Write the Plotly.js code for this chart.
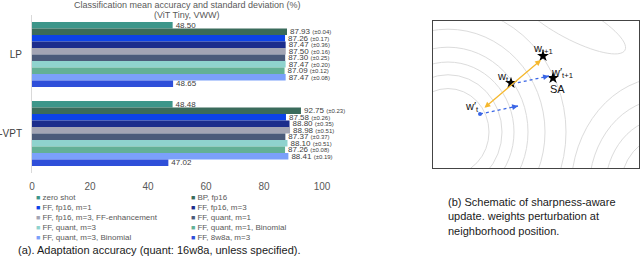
<!DOCTYPE html>
<html><head><meta charset="utf-8">
<script src="https://cdn.plot.ly/plotly-3.0.1.min.js"></script>
<style>html,body{margin:0;padding:0;background:#fff}#chart{width:640px;height:260px}</style>
</head><body><div id="chart"></div>
<script>
// ---------- bar chart data ----------
const categories = ['LP', 'D-VPT'];
const seriesNames = ['zero shot', 'BP, fp16', 'FF, fp16, m=1', 'FF, fp16, m=3',
  'FF, fp16, m=3, FF-enhancement', 'FF, quant, m=1', 'FF, quant, m=3',
  'FF, quant, m=1, Binomial', 'FF, quant, m=3, Binomial', 'FF, 8w8a, m=3'];
const seriesColors = ['#3d968a', '#3a6b5b', '#0c43e8', '#1c2d8c', '#a3a5b4',
  '#4b5b7a', '#8fd3ce', '#63b096', '#7ba0fa', '#2f4fd9'];
const lpValues  = [48.50, 87.93, 87.26, 87.47, 87.50, 87.30, 87.47, 87.09, 87.47, 48.65];
const lpStd     = [null, 0.04, 0.17, 0.36, 0.16, 0.25, 0.20, 0.12, 0.08, null];
const vptValues = [48.48, 92.75, 87.58, 88.80, 88.98, 87.37, 88.10, 87.26, 88.41, 47.02];
const vptStd    = [null, 0.23, 0.26, 0.35, 0.51, 0.37, 0.51, 0.08, 0.19, null];
const xTicks = [0, 20, 40, 60, 80, 100];
const titleLines = ['Classification mean accuracy and standard deviation (%)', '(ViT Tiny, VWW)'];

// ---------- schematic data (box coordinates) ----------
const starX = [110, 78, 120];          // w_{t+1}, w_t, w'_{t+1}
const starY = [112, 85, 90];
const wPrimeX = [47];                  // w'_t
const wPrimeY = [54];
const orangeFrom = [50, 59], orangeTo = [108, 108];
const blueFromX = [47, 79], blueFromY = [54, 84];
const blueToX = [85, 116], blueToY = [62, 92];
const labelTexts = ['w<sub>t+1</sub>', 'w<sub>t</sub>', 'w′<sub>t+1</sub>', 'SA', 'w′<sub>t</sub>'];
const labelX = [110, 70, 129, 124, 39];
const labelY = [119, 91, 95, 79, 61];
// contours: left family (centre, radii), bottom-right family, tilted ellipse top-right
const leftCentre = [15, 36], leftRadii = [41, 54, 66, 80, 97, 118];
const brCentre = [232, -22], brRadii = [45, 60, 76, 94];
const tiltCentre = [139, 146], tiltAxes = [60, 17], tiltAngle = 28;

function lbl(v, s) {
  return s == null ? v.toFixed(2)
    : v.toFixed(2) + ' <span style="font-size:6px">(±' + s.toFixed(2) + ')</span>';
}

const traces = seriesNames.map((name, i) => ({
  type: 'bar', orientation: 'h', name: name,
  y: categories, x: [lpValues[i], vptValues[i]],
  marker: {color: seriesColors[i], line: {width: 0}},
  text: [lbl(lpValues[i], lpStd[i]), lbl(vptValues[i], vptStd[i])],
  textposition: 'outside', cliponaxis: false, constraintext: 'none', textangle: 0,
  outsidetextfont: {size: 8, color: '#404040', family: 'Liberation Sans, Arial, sans-serif'},
  xaxis: 'x', yaxis: 'y', showlegend: false, hoverinfo: 'skip'
}));

traces.push({
  type: 'scatter', mode: 'markers', x: wPrimeX, y: wPrimeY, xaxis: 'x2', yaxis: 'y2',
  marker: {symbol: 'circle', size: 4, color: '#3a66e6'}, showlegend: false, hoverinfo: 'skip'
});
traces.push({
  type: 'scatter', mode: 'markers', x: starX, y: starY, xaxis: 'x2', yaxis: 'y2',
  marker: {symbol: 'star', size: 9, color: '#000'}, showlegend: false, hoverinfo: 'skip'
});

// shapes
const shapes = [];
const contourLine = {color: '#dcdcdc', width: 1};
leftRadii.forEach(r => shapes.push({type: 'circle', xref: 'x2', yref: 'y2',
  x0: leftCentre[0] - r, x1: leftCentre[0] + r,
  y0: leftCentre[1] - r * 1.06, y1: leftCentre[1] + r * 1.06, line: contourLine, layer: 'below'}));
brRadii.forEach(r => shapes.push({type: 'circle', xref: 'x2', yref: 'y2',
  x0: brCentre[0] - r, x1: brCentre[0] + r,
  y0: brCentre[1] - r * 1.2, y1: brCentre[1] + r * 1.2, line: contourLine, layer: 'below'}));
(function () {
  const t = tiltAngle * Math.PI / 180, k = 0.5523;
  const u = [Math.cos(t) * tiltAxes[0], -Math.sin(t) * tiltAxes[0]];
  const v = [Math.sin(t) * tiltAxes[1], Math.cos(t) * tiltAxes[1]];
  const c = tiltCentre;
  const P = (a, b) => [c[0] + a * u[0] + b * v[0], c[1] + a * u[1] + b * v[1]];
  const f = p => p[0].toFixed(2) + ',' + p[1].toFixed(2);
  const pts = [[1, 0], [0, 1], [-1, 0], [0, -1], [1, 0]];
  let d = 'M' + f(P(1, 0));
  for (let i = 0; i < 4; i++) {
    const a = pts[i], b = pts[i + 1];
    const c1 = P(a[0] + k * b[0], a[1] + k * b[1]);
    const c2 = P(b[0] + k * a[0], b[1] + k * a[1]);
    d += ' C' + f(c1) + ' ' + f(c2) + ' ' + f(P(b[0], b[1]));
  }
  shapes.push({type: 'path', xref: 'x2', yref: 'y2', path: d + ' Z', line: contourLine, layer: 'below'});
})();
for (let i = 0; i < blueFromX.length; i++) {
  shapes.push({type: 'line', xref: 'x2', yref: 'y2', x0: blueFromX[i], y0: blueFromY[i],
    x1: blueToX[i], y1: blueToY[i], line: {color: '#3a66e6', width: 1.3, dash: 'dot'}});
}

// annotations
const ann = [];
ann.push({xref: 'x2', yref: 'y2', axref: 'x2', ayref: 'y2', x: orangeTo[0], y: orangeTo[1],
  ax: orangeFrom[0], ay: orangeFrom[1], text: '', showarrow: true, arrowhead: 2, arrowside: 'end+start',
  arrowsize: 0.9, arrowwidth: 1.3, arrowcolor: '#f5b82e'});
for (let i = 0; i < blueFromX.length; i++) {
  ann.push({xref: 'x2', yref: 'y2', axref: 'x2', ayref: 'y2', x: blueToX[i], y: blueToY[i],
    ax: blueFromX[i] + 0.8 * (blueToX[i] - blueFromX[i]), ay: blueFromY[i] + 0.8 * (blueToY[i] - blueFromY[i]),
    text: '', showarrow: true, arrowhead: 2, arrowsize: 0.9, arrowwidth: 1.3, arrowcolor: '#3a66e6'});
}
labelTexts.forEach((t, i) => ann.push({xref: 'x2', yref: 'y2', x: labelX[i], y: labelY[i], text: t,
  showarrow: false, font: {size: 11, color: '#111', family: 'Liberation Sans, Arial, sans-serif'}}));

// title (two lines)
titleLines.forEach((t, i) => ann.push({xref: 'paper', yref: 'paper', xanchor: 'center', yanchor: 'middle',
  x: 187 / 640, y: 1 - (5 + i * 10) / 260, text: t, showarrow: false,
  font: {size: 9, color: '#595959', family: 'Liberation Sans, Arial, sans-serif'}}));

// manual legend
seriesNames.forEach((name, i) => {
  const col = i % 2, row = Math.floor(i / 2);
  ann.push({xref: 'paper', yref: 'paper', xanchor: 'left', yanchor: 'middle',
    x: (col === 0 ? 34 : 189) / 640, y: 1 - (197 + row * 10) / 260,
    text: '<span style="color:' + seriesColors[i] + ';font-size:7px">■</span> ' + name,
    showarrow: false, font: {size: 8, color: '#595959', family: 'Liberation Sans, Arial, sans-serif'}});
});
ann.push({xref: 'paper', yref: 'paper', xanchor: 'left', yanchor: 'middle', x: 16 / 640, y: 1 - 250 / 260,
  text: '(a). Adaptation accuracy (quant: 16w8a, unless specified).', showarrow: false,
  font: {size: 11, color: '#1a1a1a', family: 'Liberation Sans, Arial, sans-serif'}});
ann.push({xref: 'paper', yref: 'paper', xanchor: 'left', yanchor: 'top', align: 'left', x: 446 / 640, y: 1 - 194 / 260,
  text: '(b) Schematic of sharpness-aware<br>update. weights perturbation at<br>neighborhood position.', showarrow: false,
  font: {size: 11, color: '#1a1a1a', family: 'Liberation Sans, Arial, sans-serif'}});

const layout = {
  width: 640, height: 260, margin: {l: 0, r: 0, t: 0, b: 0},
  paper_bgcolor: '#fff', plot_bgcolor: 'rgba(0,0,0,0)',
  font: {family: 'Liberation Sans, Arial, sans-serif', color: '#595959'},
  barmode: 'group', bargap: 0.18, bargroupgap: 0,
  xaxis: {domain: [32 / 640, 322 / 640], range: [0, 100], tickvals: xTicks, showgrid: false,
    zeroline: false, showline: false, ticks: '', tickfont: {size: 10, color: '#595959'}, ticklabelstandoff: 6},
  yaxis: {domain: [1 - 173 / 260, 1 - 15 / 260], type: 'category', autorange: 'reversed',
    showline: true, linecolor: '#d9d9d9', linewidth: 1, ticks: '', showgrid: false,
    tickfont: {size: 10, color: '#404040'}, ticklabelstandoff: 7},
  xaxis2: {domain: [433 / 640, 639 / 640], range: [0, 206], anchor: 'y2', showgrid: false, zeroline: false,
    showticklabels: false, ticks: '', showline: true, mirror: true, linecolor: '#444', linewidth: 1.3},
  yaxis2: {domain: [1 - 168 / 260, 1 - 21 / 260], range: [0, 147], anchor: 'x2', showgrid: false, zeroline: false,
    showticklabels: false, ticks: '', showline: true, mirror: true, linecolor: '#444', linewidth: 1.3},
  shapes: shapes, annotations: ann, showlegend: false, hovermode: false
};
Plotly.newPlot('chart', traces, layout, {staticPlot: true, displayModeBar: false});
</script></body></html>
